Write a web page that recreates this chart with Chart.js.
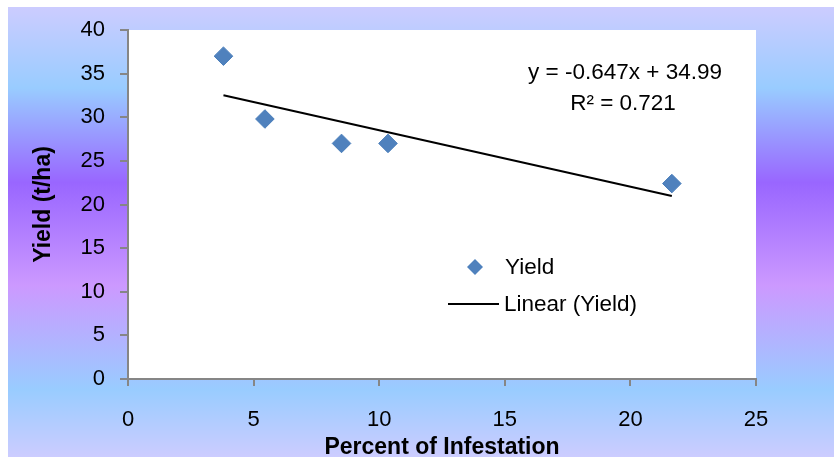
<!DOCTYPE html>
<html>
<head>
<meta charset="utf-8">
<script src="https://cdn.jsdelivr.net/npm/chart.js@4"></script>
<style>
  html, body { margin: 0; padding: 0; background: #ffffff; }
  #wrap { width: 834px; height: 462px; position: relative; }
</style>
</head>
<body>
<div id="wrap"><canvas id="chart" width="834" height="462"></canvas></div>
<script>
// Infestation (%) against yield (t/ha)
const infestation = [3.8, 5.45, 8.5, 10.35, 21.65];
const yieldValues = [37.0, 29.8, 27.0, 27.0, 22.4];

// Linear fit reported on the chart
const slope = -0.647;
const intercept = 34.99;
const rSquared = 0.721;

const xTicks = [0, 5, 10, 15, 20, 25];
const yTicks = [0, 5, 10, 15, 20, 25, 30, 35, 40];

const seriesName = 'Yield';
const trendName = 'Linear (Yield)';
const xTitle = 'Percent of Infestation';
const yTitle = 'Yield (t/ha)';

const FONT = '"Liberation Sans", Arial, sans-serif';
const BLUE = '#4F81BD';
const AXIS = '#868686';

// trend line runs across the observed range of x
const xMin = Math.min(...infestation);
const xMax = Math.max(...infestation);
const trendPoints = [xMin, xMax].map(x => ({ x: x, y: slope * x + intercept }));
const scatterPoints = infestation.map((x, i) => ({ x: x, y: yieldValues[i] }));

const fmtSigned = v => (v < 0 ? '- ' : '+ ') + Math.abs(v);
const equationText = 'y = ' + slope + 'x ' + fmtSigned(intercept);
const r2Text = 'R² = ' + rSquared;

// gradient frame behind the chart plus the white plot area
const backdrop = {
  id: 'backdrop',
  beforeDraw(chart) {
    const { ctx, chartArea } = chart;
    const top = 7, bottom = 457, left = 8, right = chart.width;
    const g = ctx.createLinearGradient(0, top, 0, bottom);
    g.addColorStop(0.00, '#CCCCFF');
    g.addColorStop(0.18, '#99CCFF');
    g.addColorStop(0.39, '#9966FF');
    g.addColorStop(0.62, '#CC99FF');
    g.addColorStop(0.85, '#99CCFF');
    g.addColorStop(1.00, '#CCCCFF');
    ctx.save();
    ctx.fillStyle = g;
    ctx.fillRect(left, top, right - left, bottom - top);
    ctx.fillStyle = '#ffffff';
    ctx.fillRect(chartArea.left, chartArea.top,
                 chartArea.right - chartArea.left, chartArea.bottom - chartArea.top);
    ctx.restore();
  }
};

// equation text and the in-plot legend
const annotations = {
  id: 'annotations',
  afterDraw(chart) {
    const { ctx, chartArea } = chart;
    const L = chartArea.left, T = chartArea.top;
    ctx.save();
    ctx.fillStyle = '#000000';
    ctx.font = '22.5px ' + FONT;
    ctx.textBaseline = 'middle';

    ctx.textAlign = 'center';
    ctx.fillText(equationText, L + 497, T + 43);
    ctx.fillText(r2Text, L + 495, T + 74);

    // legend: marker entry
    ctx.textAlign = 'left';
    const mx = L + 347, my = T + 237, r = 8;
    ctx.beginPath();
    ctx.moveTo(mx - r, my);
    ctx.lineTo(mx, my - r);
    ctx.lineTo(mx + r, my);
    ctx.lineTo(mx, my + r);
    ctx.closePath();
    ctx.fillStyle = BLUE;
    ctx.fill();
    ctx.fillStyle = '#000000';
    ctx.fillText(seriesName, L + 377, my + 1);

    // legend: trend line entry
    const ly = T + 274;
    ctx.beginPath();
    ctx.moveTo(L + 320, ly);
    ctx.lineTo(L + 371, ly);
    ctx.strokeStyle = '#000000';
    ctx.lineWidth = 2;
    ctx.stroke();
    ctx.fillText(trendName, L + 376, ly + 1);
    ctx.restore();
  }
};

new Chart(document.getElementById('chart'), {
  type: 'scatter',
  data: {
    datasets: [
      {
        label: seriesName,
        data: scatterPoints,
        pointStyle: 'rectRot',
        pointRadius: 9.3,
        pointHoverRadius: 9.3,
        backgroundColor: BLUE,
        borderColor: '#4A7EBB',
        borderWidth: 1,
        order: 1
      },
      {
        label: trendName,
        type: 'line',
        data: trendPoints,
        borderColor: '#000000',
        borderWidth: 2,
        pointRadius: 0,
        fill: false,
        order: 2
      }
    ]
  },
  plugins: [backdrop, annotations],
  options: {
    responsive: false,
    animation: false,
    events: [],
    layout: { padding: { left: 0, right: 78, top: 30, bottom: 0 } },
    plugins: {
      legend: { display: false },
      tooltip: { enabled: false }
    },
    scales: {
      x: {
        type: 'linear',
        min: xTicks[0],
        max: xTicks[xTicks.length - 1],
        afterBuildTicks(scale) { scale.ticks = xTicks.map(v => ({ value: v })); },
        afterFit(scale) { scale.height = 83; },
        border: { display: true, color: AXIS, width: 2 },
        grid: { drawOnChartArea: false, drawTicks: true, tickLength: 7, color: AXIS, lineWidth: 2 },
        ticks: { color: '#000000', font: { family: FONT, size: 22 }, padding: 21, maxRotation: 0 },
        title: {
          display: true, text: xTitle, color: '#000000',
          font: { family: FONT, size: 23, weight: 'bold' },
          padding: { top: 0, bottom: 1 }
        }
      },
      y: {
        type: 'linear',
        min: yTicks[0],
        max: yTicks[yTicks.length - 1],
        afterBuildTicks(scale) { scale.ticks = yTicks.map(v => ({ value: v })); },
        afterFit(scale) { scale.width = 128; },
        border: { display: true, color: AXIS, width: 2 },
        grid: { drawOnChartArea: false, drawTicks: true, tickLength: 8, color: AXIS, lineWidth: 2 },
        ticks: { color: '#000000', font: { family: FONT, size: 22 }, padding: 15 },
        title: {
          display: true, text: yTitle, color: '#000000',
          font: { family: FONT, size: 23, weight: 'bold' },
          padding: { top: 30, bottom: 0 }
        }
      }
    }
  }
});
</script>
</body>
</html>
